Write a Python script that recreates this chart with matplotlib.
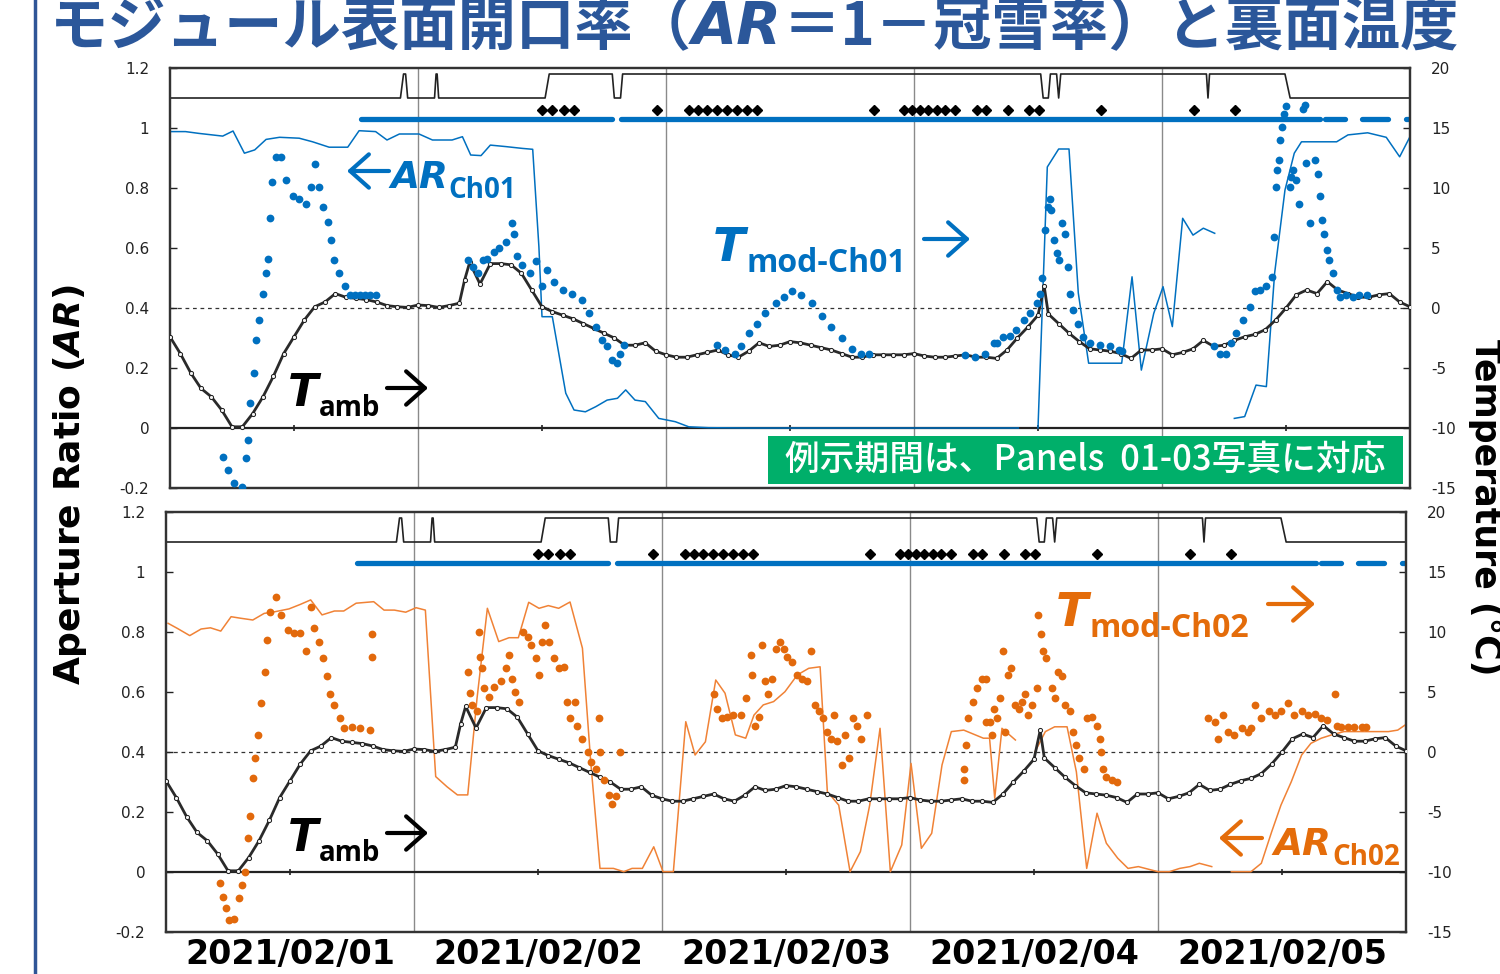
import numpy as np
import matplotlib
matplotlib.use('Agg')
import matplotlib.pyplot as plt
from matplotlib.transforms import IdentityTransform
from matplotlib.patches import Rectangle, FancyArrowPatch
from matplotlib.lines import Line2D
from matplotlib.ticker import FixedLocator, FuncFormatter

W, H = 1500, 974
plt.rcParams['font.family'] = ['DejaVu Sans']
plt.rcParams['axes.unicode_minus'] = False
plt.rcParams['mathtext.fontset'] = 'custom'
plt.rcParams['mathtext.it'] = 'DejaVu Sans:italic:bold'
plt.rcParams['mathtext.rm'] = 'DejaVu Sans:bold'

# ---------------- data (time in hours from 2021/02/01 00:00) ----------------
date_labels = ['2021/02/01', '2021/02/02', '2021/02/03', '2021/02/04', '2021/02/05']
date_pos = [12, 36, 60, 84, 108]
day_bounds = [24, 48, 72, 96]

# ambient temperature (hourly readings + two extra peaks)
tamb_hourly = [-2.4, -3.8, -5.4, -6.7, -7.4, -8.5, -9.9, -9.9, -8.8, -7.4,
               -5.7, -3.8, -2.4, -1.0, 0.1, 0.5, 1.2, 0.9, 0.8, 0.7,
               0.5, 0.2, 0.1, 0.05, 0.25, 0.2, 0.05, 0.2, 0.4, 3.8,
               2.0, 3.7, 3.7, 3.6, 2.9, 1.5, 0.1, -0.3, -0.6, -0.9,
               -1.3, -1.7, -2.1, -2.5, -3.1, -3.1, -2.9, -3.6, -3.9, -4.1,
               -4.1, -3.9, -3.7, -3.5, -3.9, -4.1, -3.6, -2.9, -3.2, -3.1,
               -2.8, -2.9, -3.1, -3.3, -3.5, -3.8, -4.1, -4.1, -3.9, -3.9,
               -3.9, -3.9, -3.8, -4.0, -4.1, -4.1, -4.0, -3.9, -4.1, -4.1,
               -4.2, -3.5, -2.5, -1.6, -0.6, -0.5, -1.3, -2.1, -2.8, -3.4,
               -3.5, -3.6, -3.8, -4.2, -3.5, -3.5, -3.4, -3.9, -3.7, -3.4,
               -2.7, -3.2, -3.1, -2.7, -2.4, -2.2, -1.8, -1.0, 0.0, 1.1,
               1.5, 1.2, 2.2, 1.5, 1.2, 0.9, 0.9, 1.1, 1.2, 0.5,
               0.1]
tamb_extra_t = [28.5, 84.6]
tamb_extra_v = [2.3, 1.8]

# module temperature Ch01
tmod1_t = [5.1, 5.6, 6.2, 7.0, 7.4, 7.5, 7.7, 8.1, 8.3, 8.6,
           9.0, 9.3, 9.5, 9.7, 9.9, 10.3, 10.7, 11.2, 11.9, 12.5,
           13.2, 13.6, 14.0, 14.4, 14.8, 15.3, 15.6, 15.9, 16.4, 16.9,
           17.4, 17.9, 18.4, 18.9, 19.4, 19.9,
           28.8, 29.3, 29.8, 30.3, 30.7, 31.4, 31.8, 32.5, 33.1, 33.3,
           33.6, 34.1, 34.8, 35.4, 36.0, 36.5, 37.2, 38.0, 38.9, 39.9,
           40.5, 41.2, 41.8, 42.3, 42.8, 43.3, 43.5, 43.9,
           52.9, 53.7, 54.7, 55.3, 56.0, 56.8, 57.6, 58.6, 59.4, 60.2,
           61.1, 62.1, 63.1, 64.0, 65.0, 66.0, 66.9, 67.6,
           76.9, 77.9, 78.9, 79.7, 80.0, 80.6, 81.3, 81.9, 82.6, 83.2,
           83.9, 84.2, 84.4, 84.7, 85.0, 85.2, 85.3, 85.5, 85.8, 86.0,
           86.3, 86.6, 86.9, 87.1, 87.4, 87.9, 88.4, 89.0, 90.0, 91.0,
           91.8, 92.1,
           101.0, 101.6, 102.2, 102.7, 103.2, 103.8, 104.5, 105.0, 105.5, 106.1,
           106.6, 106.8, 107.0, 107.1, 107.3, 107.4, 107.6, 107.8, 108.0, 108.4,
           108.5, 108.7, 109.0, 109.3, 109.6, 109.8, 109.9, 110.3, 110.8, 111.1,
           111.3, 111.5, 111.7, 112.0, 112.2, 112.5, 112.9, 113.2, 113.8, 114.5,
           115.1, 115.8]
tmod1_v = [-12.4, -13.5, -14.6, -14.9, -12.5, -11.0, -7.9, -5.4, -2.7, -1.0,
           1.2, 2.9, 4.1, 7.5, 10.5, 12.6, 12.6, 10.7, 9.3, 9.1,
           8.7, 10.1, 12.0, 10.1, 8.4, 7.2, 5.7, 4.0, 2.9, 1.8,
           1.1, 1.1, 1.1, 1.1, 1.1, 1.1,
           4.0, 3.4, 2.9, 4.0, 4.1, 4.7, 5.0, 5.5, 7.1, 6.2,
           4.3, 3.6, 2.9, 3.9, 1.8, 3.2, 2.2, 1.5, 1.2, 0.7,
           -0.4, -1.6, -2.7, -3.2, -4.3, -4.6, -3.8, -3.1,
           -3.1, -3.5, -3.8, -3.2, -2.1, -1.3, -0.4, 0.4, 0.9, 1.4,
           1.1, 0.4, -0.7, -1.6, -2.5, -3.4, -3.8, -3.8,
           -3.9, -4.1, -3.8, -2.9, -2.9, -2.4, -2.3, -1.8, -1.0, -0.4,
           0.4, 1.2, 2.5, 6.5, 8.4, 9.1, 8.2, 5.7, 4.6, 4.0,
           7.1, 6.2, 3.4, 1.2, -0.2, -1.3, -2.4, -2.9, -3.1, -3.2,
           -3.5, -3.6,
           -3.2, -3.8, -3.8, -2.9, -2.1, -1.0, 0.1, 1.4, 1.5, 1.8,
           2.6, 5.9, 10.1, 11.5, 12.3, 14.0, 15.1, 16.2, 16.8, 10.1,
           10.9, 11.5, 10.7, 8.7, 16.6, 16.9, 12.1, 7.1, 12.3, 11.2,
           9.3, 7.3, 6.2, 4.8, 4.0, 2.9, 1.5, 0.9, 1.1, 0.9,
           1.1, 1.1]

# aperture ratio Ch01 (nan = gap)
ar1_t = [0.0, 1.5, 2.8, 5.1, 6.1, 7.2, 8.2, 9.3, 10.6, 12.5,
         13.8, 15.4, 17.2, 18.3, 19.9, 21.0, 22.2, 24.1, 25.4, 27.3,
         28.3, 29.1, 30.1, 31.0, 32.5, 34.1, 35.1, 35.7, 36.0, 37.0,
         38.3, 39.1, 40.2, 41.2, 42.3, 43.3, 44.1, 45.0, 46.0, 47.3,
         48.9, 50.2, 52.1, 56.0, 64.0, 72.0, 80.0, 82.1, 83.0, 84.0,
         84.9, 86.0, 87.0, 87.9, 88.9, 92.1, 93.1, 94.0, 95.2, 96.1,
         97.0, 98.0, 99.0, 100.0, 101.1, 102.0, 103.0, 104.0, 105.1, 106.1,
         106.9, 107.9, 108.8, 109.5, 110.8, 112.9, 114.0, 115.9, 117.7, 119.0,
         120.0]
ar1_v = [0.988, 0.988, 0.982, 0.973, 0.990, 0.916, 0.927, 0.962, 0.969, 0.966,
         0.954, 0.936, 0.936, 0.991, 0.988, 0.960, 0.980, 0.980, 0.960, 0.960,
         0.971, 0.910, 0.908, 0.943, 0.938, 0.932, 0.929, 0.604, 0.371, 0.371,
         0.116, 0.060, 0.054, 0.071, 0.093, 0.099, 0.127, 0.093, 0.088, 0.032,
         0.021, 0.004, 0.001, 0.0, 0.0, 0.0, 0.0, 0.0, np.nan, 0.0,
         0.870, 0.930, 0.930, 0.450, 0.216, 0.216, 0.504, 0.193, 0.382, 0.471,
         0.338, 0.699, 0.643, 0.666, 0.649, np.nan, 0.032, 0.038, 0.143, 0.138,
         0.516, 0.793, 0.916, 0.954, 0.954, 0.954, 0.977, 0.984, 0.969, 0.904,
         0.971]

# module temperature Ch02
tmod2_t = [5.2, 5.5, 5.8, 6.1, 6.6, 7.1, 7.4, 7.6, 7.9, 8.1,
           8.4, 8.6, 8.9, 9.2, 9.6, 9.8, 10.1, 10.6, 11.1, 11.8,
           12.4, 13.0, 13.5, 14.0, 14.3, 14.8, 15.2, 15.6, 15.9, 16.3,
           16.8, 17.2, 18.0, 18.8, 19.7, 19.9, 19.95,
           29.2, 29.4, 29.6, 30.1, 30.3, 30.35, 30.6, 30.8, 31.3, 31.7,
           32.4, 32.9, 33.2, 33.5, 33.8, 34.2, 34.5, 35.0, 35.3, 35.8,
           36.1, 36.4, 36.7, 37.1, 37.5, 38.0, 38.5, 38.8, 39.1, 39.6,
           39.8, 40.3, 40.8, 41.1, 41.6, 41.9, 42.0, 42.4, 42.9, 43.2,
           43.5, 43.9,
           53.0, 53.3, 53.8, 54.3, 54.9, 55.6, 56.1, 56.6, 56.7, 57.0,
           57.4, 57.7, 58.0, 58.3, 58.6, 59.0, 59.4, 59.8, 60.1, 60.6,
           61.1, 61.5, 62.0, 62.4, 62.8, 63.2, 63.6, 64.0, 64.4, 64.6,
           64.9, 65.4, 65.7, 66.1, 66.5, 66.9, 67.3, 67.8,
           77.2, 77.25, 77.4, 77.6, 78.1, 78.5, 79.0, 79.35, 79.4, 79.7,
           79.9, 80.1, 80.4, 80.7, 81.0, 81.2, 81.5, 81.8, 82.2, 82.5,
           82.8, 83.1, 83.4, 83.8, 84.3, 84.4, 84.7, 84.9, 85.2, 85.7,
           86.0, 86.3, 86.7, 87.0, 87.5, 87.8, 88.1, 88.4, 88.8, 89.1,
           89.6, 90.1, 90.4, 90.5, 90.7, 91.0, 91.5, 92.0,
           100.8, 101.5, 101.8, 102.3, 102.8, 103.4, 104.1, 104.7, 105.0, 105.4,
           106.0, 106.7, 107.3, 107.9, 108.6, 109.2, 109.9, 110.5, 111.2, 111.8,
           112.4, 113.1, 113.3, 113.7, 114.4, 115.0, 115.7, 116.1]
tmod2_v = [-10.9, -12.1, -13.0, -14.0, -13.9, -12.2, -11.1, -10.0, -7.2, -5.3,
           -2.2, -0.5, 1.4, 4.1, 6.7, 9.3, 11.7, 12.9, 11.4, 10.2,
           9.9, 9.9, 8.4, 12.1, 10.3, 9.2, 7.8, 6.3, 4.8, 3.9,
           2.8, 2.0, 2.1, 2.0, 1.8, 9.8, 7.9,
           6.7, 4.9, 3.9, 3.4, 10.0, 7.9, 7.0, 5.3, 4.6, 5.4,
           5.9, 7.0, 8.1, 6.1, 5.0, 4.2, 10.0, 9.6, 8.9, 7.8,
           6.4, 9.2, 10.6, 9.2, 7.8, 7.0, 7.1, 4.2, 2.8, 4.2,
           2.2, 1.1, 0.0, -0.8, -1.4, 2.8, 0.0, -2.3, -3.6, -4.3,
           -3.7, 0.0,
           4.8, 3.6, 2.8, 2.9, 3.1, 3.1, 4.5, 8.1, 6.4, 2.2,
           2.9, 8.9, 5.9, 4.8, 6.1, 8.6, 9.2, 8.6, 7.9, 7.5,
           6.4, 6.1, 5.9, 8.4, 3.9, 3.4, 2.8, 1.7, 1.1, 3.1,
           0.9, -1.1, 1.4, -0.5, 2.8, 2.2, 1.1, 3.1,
           -2.3, -1.4, 0.6, 2.8, 4.2, 5.3, 6.1, 2.5, 6.1, 2.5,
           1.4, 3.6, 2.8, 4.5, 8.4, 1.7, 6.4, 7.0, 3.9, 3.6,
           4.2, 4.8, 3.1, 3.9, 5.3, 11.4, 9.8, 8.4, 7.8, 5.3,
           4.5, 6.7, 6.3, 3.9, 3.4, 1.7, 0.6, -0.5, -1.4, 2.8,
           2.9, 2.2, 1.1, 0.0, -1.4, -2.1, -2.3, -2.5,
           2.8, 2.5, 1.1, 3.1, 1.7, 1.4, 2.0, 1.7, 2.0, 3.9,
           2.8, 3.4, 3.1, 3.4, 4.1, 3.1, 3.4, 3.1, 3.2, 2.8,
           2.7, 4.8, 2.2, 2.1, 2.1, 2.1, 2.1, 2.1]

# aperture ratio Ch02
ar2_t = [0.2, 1.1, 2.3, 3.4, 4.3, 5.3, 6.3, 7.2, 8.4, 9.5,
         10.6, 11.9, 13.0, 14.0, 15.1, 16.3, 17.2, 18.4, 20.1, 21.1,
         22.1, 23.2, 24.2, 25.1, 26.1, 27.2, 28.2, 29.2, 30.1, 31.1,
         32.2, 33.2, 34.1, 35.1, 36.1, 37.0, 38.0, 39.1, 40.3, 41.1,
         42.0, 43.3, 44.3, 45.1, 46.1, 47.2, 48.1, 49.1, 50.3, 51.2,
         52.2, 53.2, 54.1, 55.1, 56.1, 56.9, 57.8, 58.8, 59.9, 61.1,
         62.2, 63.3, 64.0, 65.1, 66.2, 67.2, 68.1, 69.1, 70.1, 71.2,
         72.1, 73.1, 74.1, 75.1, 76.0, 77.2, 79.1, 79.7, 80.2, 80.9,
         82.2, 83.2, 84.1, 85.1, 86.0, 87.2, 88.1, 89.1, 90.1, 91.0,
         92.1, 93.1, 94.1, 96.0, 97.1, 98.1, 99.1, 100.0, 101.2, 102.2,
         103.1, 105.0, 106.0, 107.0, 107.9, 108.9, 109.9, 110.8, 111.8, 112.8,
         114.0, 115.0, 116.0, 117.1, 118.3, 119.2, 120.0]
ar2_v = [0.829, 0.812, 0.788, 0.810, 0.814, 0.803, 0.851, 0.846, 0.840, 0.862,
         0.868, 0.877, 0.892, 0.907, 0.857, 0.870, 0.870, 0.896, 0.901, 0.873,
         0.873, 0.866, 0.881, 0.873, 0.318, 0.284, 0.257, 0.257, 0.579, 0.879,
         0.768, 0.781, 0.781, 0.899, 0.879, 0.888, 0.879, 0.900, 0.746, 0.368,
         0.012, 0.012, 0.001, 0.012, 0.012, 0.084, 0.001, 0.001, 0.501, 0.390,
         0.434, 0.640, 0.596, 0.457, 0.446, 0.523, 0.557, 0.568, 0.601, 0.657,
         0.679, 0.684, 0.268, 0.223, 0.001, 0.068, 0.223, 0.479, 0.001, 0.090,
         0.362, 0.079, 0.129, 0.357, 0.468, 0.473, 0.446, 0.446, 0.246, 0.479,
         0.440, np.nan, 0.401, 0.468, 0.484, 0.484, 0.334, 0.012, 0.196, 0.096,
         0.046, 0.012, 0.018, 0.001, 0.001, 0.012, 0.018, 0.029, 0.018, np.nan,
         0.001, 0.001, 0.029, 0.134, 0.223, 0.301, 0.390, 0.429, 0.446, 0.457,
         0.468, 0.468, 0.468, 0.468, 0.468, 0.473, 0.492]

# status indicator (0/1) shown in the top strip
status_t = [0, 22.3, 22.6, 22.8, 23.0, 25.6, 25.75, 25.85, 26.0, 36.3,
            36.7, 42.8, 43.0, 43.6, 43.8, 84.26, 84.5, 85.0, 85.2, 85.8,
            86.0, 86.2, 100.3, 100.45, 100.6, 107.9, 108.4, 120]
status_v = [0, 0, 1, 1, 0, 0, 1, 1, 0, 0,
            1, 1, 0, 0, 1, 1, 0, 0, 1, 1,
            0, 1, 1, 0, 1, 1, 0, 0]
# event markers (diamonds)
event_t = [36.0, 37.0, 38.1, 39.1, 47.1, 50.2, 51.1, 52.0, 52.9, 53.9,
           54.9, 55.8, 56.8, 68.1, 71.0, 71.8, 72.6, 73.4, 74.2, 75.0,
           76.0, 78.1, 79.0, 81.1, 83.1, 84.1, 90.1, 99.1, 103.1]
# blue bar segments
bar_start = [18.5, 43.6, 111.8, 115.4, 119.6]
bar_end = [42.8, 111.3, 113.7, 117.9, 120.0]

ar_ticks = [-0.2, 0, 0.2, 0.4, 0.6, 0.8, 1.0, 1.2]
t_ticks = [-15, -10, -5, 0, 5, 10, 15, 20]

BLUE = '#0070C0'
ORANGE_DOT = '#E2690C'
ORANGE_LINE = '#F08236'
ORANGE_TXT = '#E46C0A'
SUBFONT = 'Open Sans'

fig = plt.figure(figsize=(W / 100, H / 100), dpi=100)

tamb_t = list(range(len(tamb_hourly))) + tamb_extra_t
tamb_v = tamb_hourly + tamb_extra_v
order = np.argsort(tamb_t)
tamb_t = np.array(tamb_t, float)[order]
tamb_v = np.array(tamb_v, float)[order]


def fmt_ar(v, p):
    v = round(v, 1)
    if abs(v) < 1e-9:
        return '0'
    return f'{v:g}'


def panel(left_px, top_px, ar_t, ar_v, ar_col, tm_t, tm_v, tm_col, show_dates):
    ax = fig.add_axes([left_px / W, 1 - (top_px + 420) / H, 1240 / W, 420 / H])
    ax.set_xlim(0, 120)
    ax.set_ylim(-0.2, 1.2)
    ax.yaxis.set_major_locator(FixedLocator(ar_ticks))
    ax.yaxis.set_major_formatter(FuncFormatter(fmt_ar))
    ax.tick_params(axis='y', direction='in', length=5, width=1, labelsize=11, pad=15,
                   colors='#222')
    ax.set_xticks(date_pos)
    if show_dates:
        ax.set_xticklabels(date_labels, fontsize=24, fontweight='bold')
        ax.tick_params(axis='x', length=0, pad=4)
    else:
        ax.set_xticklabels([])
        ax.tick_params(axis='x', length=0)
    for sp in ax.spines.values():
        sp.set_linewidth(1.6)
        sp.set_color('#333333')
    for d in day_bounds:
        ax.axvline(d, color='#8a8a8a', lw=1.0, zorder=1)
    ax.axhline(0.4, color='#333', lw=0.9, ls=(0, (3, 3)), zorder=1.5)
    ax.axhline(0, color='#222', lw=1.6, zorder=1.5)
    ax.plot(date_pos, [0] * len(date_pos), ls='none', marker='|', ms=5, mew=1.2,
            color='#222', zorder=1.6)
    ax.plot(status_t, 1.1 + 0.08 * np.array(status_v), color='#222', lw=1.2, zorder=2)
    ax.plot(event_t, [1.06] * len(event_t), ls='none', marker='D', ms=5, color='black',
            zorder=2)
    for s, e in zip(bar_start, bar_end):
        ax.plot([s, e], [1.03, 1.03], color=BLUE, lw=3.8, solid_capstyle='round', zorder=2)
    ax.plot(ar_t, ar_v, color=ar_col, lw=1.1, zorder=3)

    ax2 = ax.twinx()
    ax2.set_ylim(-15, 20)
    ax2.yaxis.set_major_locator(FixedLocator(t_ticks))
    ax2.tick_params(axis='y', direction='in', length=5, width=1, labelsize=11, pad=15,
                    colors='#222')
    for sp in ax2.spines.values():
        sp.set_linewidth(1.6)
        sp.set_color('#333333')
    ax2.plot(tamb_t, tamb_v, color='#2a2a2a', lw=2.0, zorder=2)
    ax2.plot(tamb_t, tamb_v, ls='none', marker='o', ms=3.0, mfc='#f2f2f2', mec='#1a1a1a',
             mew=0.7, zorder=3)
    ax2.plot(tm_t, tm_v, ls='none', marker='o', ms=5.6, color=tm_col, mec='none', zorder=4)
    return ax, ax2


panel(170, 68, ar1_t, ar1_v, BLUE, tmod1_t, tmod1_v, BLUE, False)
panel(166, 512, ar2_t, ar2_v, ORANGE_LINE, tmod2_t, tmod2_v, ORANGE_DOT, True)

renderer = fig.canvas.get_renderer()


def rich(x, ybase, pieces):
    for p in pieces:
        t = fig.text(x, H - (ybase + p.get('dy', 0)), p['s'], transform=IdentityTransform(),
                     ha='left', va='baseline', fontsize=p['size'],
                     color=p.get('color', 'black'),
                     family=p.get('family', 'DejaVu Sans'),
                     fontweight=p.get('weight', 'normal'),
                     fontstyle=p.get('style', 'normal'), zorder=10)
        bb = t.get_window_extent(renderer)
        x = bb.x1 + p.get('gap', 0)


def arrow(x0, x1, y, color):
    fig.add_artist(FancyArrowPatch((x0, H - y), (x1, H - y), transform=IdentityTransform(),
                                   arrowstyle='->,head_length=0.45,head_width=0.4',
                                   mutation_scale=30, lw=3.0, color=color,
                                   shrinkA=0, shrinkB=0, zorder=10))


CJK = 'Noto Sans CJK JP'
# title
rich(50, 44, [
    dict(s='モジュール表面開口率（', size=42, family=CJK, weight='bold', color='#2B579A'),
    dict(s='AR', size=42, weight='bold', style='italic', color='#2B579A'),
    dict(s='＝1－冠雪率）と裏面温度', size=42, family=CJK, weight='bold', color='#2B579A'),
])

# left border line of the slide
fig.add_artist(Line2D([35 / W, 35 / W], [0, 1], color='#2F5597', lw=2.5))

# axis titles
fig.text(70 / W, 1 - 485 / H, 'Aperture Ratio ($\\mathit{AR}$)', rotation=90, ha='center',
         va='center', fontsize=26, fontweight='bold')
fig.text(1485 / W, 1 - 507 / H, 'Temperature (°C)', rotation=-90, ha='center',
         va='center', fontsize=25, fontweight='bold')

# annotations top panel
rich(288, 406, [dict(s='T', size=32, weight='bold', style='italic', gap=1),
                dict(s='amb', size=20, dy=10, family=SUBFONT, weight='bold')])
arrow(387, 428, 388, 'black')
arrow(389, 347, 171, BLUE)
rich(390, 188, [dict(s='AR', size=27, weight='bold', style='italic', color=BLUE, gap=1),
                dict(s='Ch01', size=20, dy=10, color=BLUE, family=SUBFONT, weight='bold')])
rich(713, 261, [dict(s='T', size=34, weight='bold', style='italic', color=BLUE, gap=1),
                dict(s='mod-Ch01', size=23, dy=11, color=BLUE, family=SUBFONT,
                     weight='bold')])
arrow(924, 970, 239, BLUE)

# annotations bottom panel
rich(288, 851, [dict(s='T', size=32, weight='bold', style='italic', gap=1),
                dict(s='amb', size=20, dy=10, family=SUBFONT, weight='bold')])
arrow(387, 428, 833, 'black')
rich(1056, 626, [dict(s='T', size=34, weight='bold', style='italic', color=ORANGE_TXT, gap=1),
                 dict(s='mod-Ch02', size=23, dy=11, color=ORANGE_TXT, family=SUBFONT,
                      weight='bold')])
arrow(1268, 1315, 604, ORANGE_TXT)
arrow(1262, 1219, 838, ORANGE_TXT)
rich(1273, 855, [dict(s='AR', size=27, weight='bold', style='italic', color=ORANGE_TXT, gap=1),
                 dict(s='Ch02', size=20, dy=10, color=ORANGE_TXT, family=SUBFONT,
                      weight='bold')])

# green note box
fig.add_artist(Rectangle((768 / W, 1 - 484 / H), (1403 - 768) / W, 48 / H,
                         transform=fig.transFigure, facecolor='#00AF6A', edgecolor='none',
                         zorder=9))
fig.text(1085 / W, 1 - 460 / H, '例示期間は、Panels  01-03写真に対応', ha='center', va='center',
         fontsize=25, color='white', family=CJK, fontweight='medium', zorder=11)

fig.savefig('out.png', dpi=100)
